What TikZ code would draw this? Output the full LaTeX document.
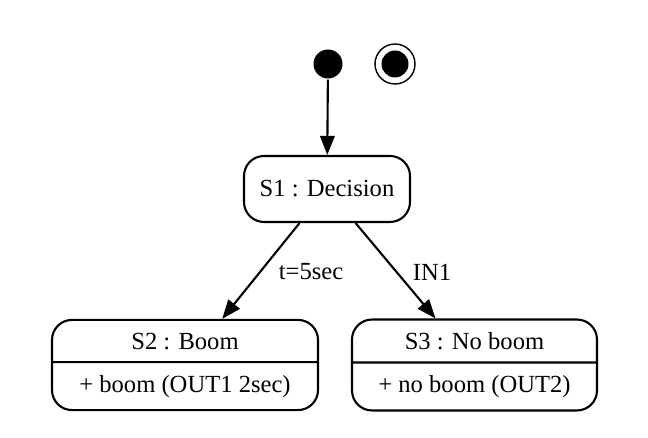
\documentclass[tikz,border=0pt]{standalone}
\usepackage{fontspec}
\setmainfont{Liberation Serif}
\usepackage{tikz}
\usetikzlibrary{arrows.meta,shapes.multipart}

\begin{document}
\begin{tikzpicture}[very thick, >={Triangle[length=3.8mm,width=2.9mm]}, font=\fontsize{14}{16}\selectfont, % 線幅、矢印、文字
  state/.style={draw, rounded corners=4mm, minimum width=3.32cm, minimum height=1.32cm}, % 単純な状態
  statebox/.style={draw, rounded corners=4mm, rectangle split, rectangle split parts=2, inner ysep=2.35mm}] % 動作つき状態
  \useasboundingbox (0,0) rectangle (12.96,8.76); % 余白込みの大きさ

  \node[circle, fill, inner sep=0, minimum size=5.8mm] (init) at (6.56,7.48) {}; % 開始点
  \node[circle, draw, thick, inner sep=0, minimum size=8mm] (final) at (7.90,7.48) {}; % 終了点
  \node[circle, fill, inner sep=0, minimum size=5.4mm] (finalin) at (final) {};

  \node[state] (s1) at (6.54,4.98) {S1 : Decision};
  \node[statebox, minimum width=5.32cm] (s2) at (3.70,1.46) {S2 : Boom \nodepart{two} + boom (OUT1 2sec)};
  \node[statebox, minimum width=4.90cm] (s3) at (9.49,1.46) {S3 : No boom \nodepart{two} + no boom (OUT2)};

  \draw[->] (init) -- (s1); % 遷移
  \draw[->] (s1) -- (s2);
  \draw[->] (s1) -- (s3);
  \node (lbl1) at (6.22,3.32) {t=5sec}; % 遷移の条件
  \node (lbl2) at (8.64,3.32) {IN1};

\end{tikzpicture}
\end{document}
